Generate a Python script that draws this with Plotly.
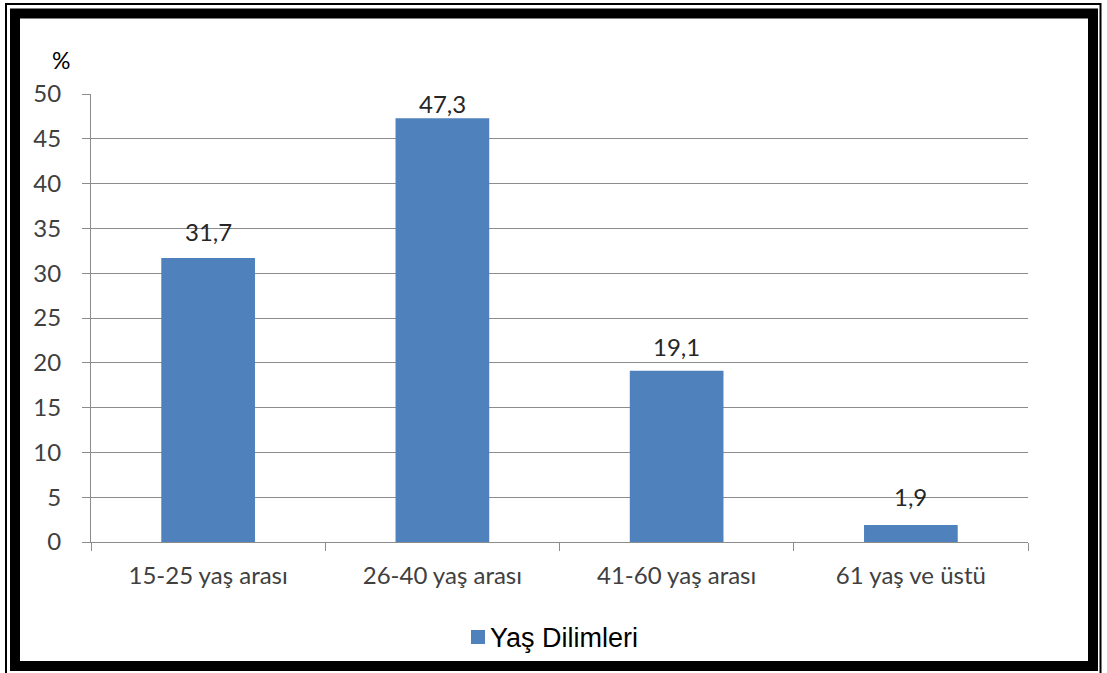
import plotly.graph_objects as go

# Age-group distribution (%)
categories = ["15-25 yaş arası", "26-40 yaş arası", "41-60 yaş arası", "61 yaş ve üstü"]
values = [31.7, 47.3, 19.1, 1.9]
value_labels = ["31,7", "47,3", "19,1", "1,9"]
series_name = "Yaş Dilimleri"
y_ticks = [0, 5, 10, 15, 20, 25, 30, 35, 40, 45, 50]

W, H = 1107, 673
L, R, T, B = 91, 1028, 94, 542  # plot area in pixels


def px(x):
    return (x - L) / (R - L)


def py(y):
    return (B - y) / (B - T)


BAR = "#4F81BD"
GRID = "#8C8C8C"
TXT = "#404040"
FONT = "Lato, sans-serif"

fig = go.Figure()
fig.add_trace(go.Bar(
    x=categories, y=values, name=series_name,
    marker=dict(color=BAR, line=dict(width=0)),
    width=0.4, showlegend=False,
))

# value labels above each bar
label_shift = [26, 15, 24, 28]
for c, v, t, s in zip(categories, values, value_labels, label_shift):
    fig.add_annotation(x=c, y=v, text=t, showarrow=False, yanchor="middle",
                       yshift=s, font=dict(family=FONT, size=24, color="#262626"))

fig.add_annotation(xref="paper", yref="paper", x=px(61), y=py(60), text="%",
                   xanchor="center", yanchor="middle",
                   showarrow=False, font=dict(family=FONT, size=23, color="#000000"))

# legend: swatch plus series name, centred under the axis
fig.add_annotation(xref="paper", yref="paper", x=px(488), y=py(638), text=series_name,
                   xanchor="left", yanchor="middle", showarrow=False,
                   font=dict(family="Liberation Sans, Arial, sans-serif", size=27, color="#000000"))

# frame around the chart
shapes = [
    dict(type="rect", xref="paper", yref="paper", x0=px(471), x1=px(485), y0=py(630), y1=py(644),
         line=dict(width=0), fillcolor=BAR),
    dict(type="rect", xref="paper", yref="paper", x0=px(6), x1=px(1100.5), y0=py(4), y1=py(676),
         line=dict(color="#000000", width=2), fillcolor="rgba(0,0,0,0)", layer="above"),
    dict(type="rect", xref="paper", yref="paper", x0=px(15), x1=px(1093), y0=py(13.5), y1=py(666),
         line=dict(color="#000000", width=10), fillcolor="rgba(0,0,0,0)", layer="above"),
]

fig.update_layout(
    width=W, height=H,
    margin=dict(l=L, r=W - R, t=T, b=H - B, pad=0),
    paper_bgcolor="#FFFFFF", plot_bgcolor="#FFFFFF",
    bargap=0.6,
    shapes=shapes,
    showlegend=False,
    xaxis=dict(
        type="category", showgrid=False, showline=True, linecolor=GRID, linewidth=1,
        ticks="outside", ticklen=8, tickcolor=GRID, tickson="boundaries",
        tickfont=dict(family=FONT, size=24, color=TXT),
        ticklabelstandoff=12,
    ),
    yaxis=dict(
        range=[0, 50], tickvals=y_ticks, showgrid=True, gridcolor=GRID, gridwidth=1,
        showline=True, linecolor=GRID, linewidth=1, zeroline=False,
        ticks="outside", ticklen=8, tickcolor=GRID,
        tickfont=dict(family=FONT, size=24, color=TXT),
        ticklabelstandoff=16,
    ),
)

fig.write_html("out.html")
